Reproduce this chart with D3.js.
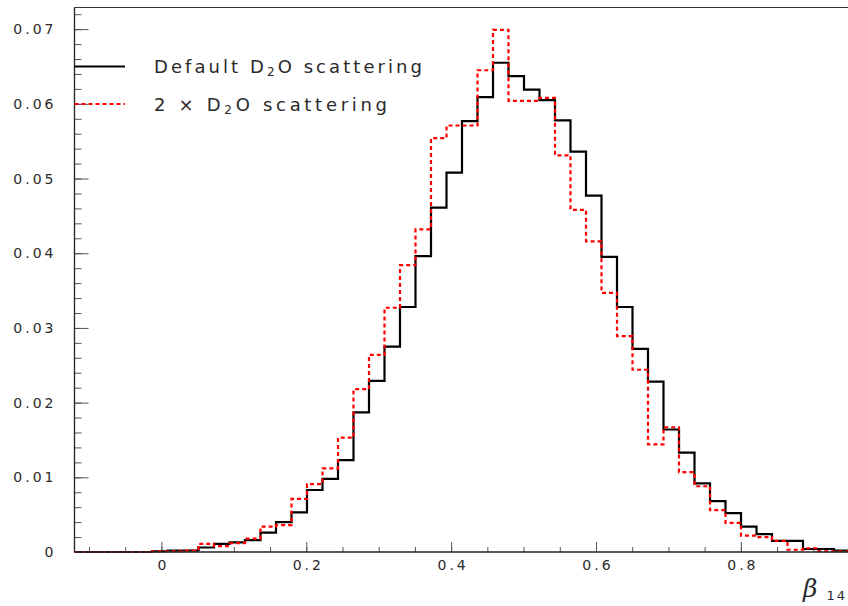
<!DOCTYPE html>
<html>
<head>
<meta charset="utf-8">
<script src="https://cdn.jsdelivr.net/npm/d3@7"></script>
<style>
  html, body { margin: 0; padding: 0; background: #fff; }
  svg { display: block; }
  text { font-family: "DejaVu Sans", sans-serif; fill: #2a2a2a; }
</style>
</head>
<body>
<svg id="chart" width="848" height="606"></svg>
<script>
// ---- data ----
const binLow = -0.12;
const binHigh = 0.95;
const nBins = 50;

const defaultScattering = [
  0, 0, 0, 0, 0, 0.0001, 0.0002, 0.0002, 0.0006, 0.0011,
  0.0013, 0.0016, 0.0026, 0.0040, 0.0053, 0.0083, 0.0098, 0.0123, 0.0187, 0.0229,
  0.0275, 0.0328, 0.0396, 0.0461, 0.0508, 0.0577, 0.0609, 0.0655, 0.0637, 0.0619,
  0.0605, 0.0578, 0.0536, 0.0477, 0.0395, 0.0328, 0.0272, 0.0228, 0.0164, 0.0133,
  0.0092, 0.0068, 0.0052, 0.0034, 0.0024, 0.0015, 0.0015, 0.0004, 0.0004, 0.0002
];
const doubleScattering = [
  0, 0, 0, 0, 0, 0.0001, 0.0001, 0.0002, 0.0011, 0.0008,
  0.0012, 0.0018, 0.0034, 0.0036, 0.0071, 0.0091, 0.0112, 0.0153, 0.0218, 0.0264,
  0.0327, 0.0384, 0.0432, 0.0554, 0.0571, 0.0571, 0.0645, 0.0699, 0.0604, 0.0604,
  0.0608, 0.0531, 0.0458, 0.0416, 0.0347, 0.0289, 0.0244, 0.0144, 0.0167, 0.0107,
  0.0088, 0.0056, 0.0039, 0.0022, 0.0020, 0.0015, 0.0003, 0.0005, 0.0001, 0.0001
];

const xMajorTicks = [0, 0.2, 0.4, 0.6, 0.8];
const xMinorTicks = [-0.1, -0.05, 0, 0.05, 0.1, 0.15, 0.2, 0.25, 0.3, 0.35, 0.4, 0.45, 0.5, 0.55, 0.6, 0.65, 0.7, 0.75, 0.8, 0.85, 0.9];
const yMajorTicks = [0, 0.01, 0.02, 0.03, 0.04, 0.05, 0.06, 0.07];
const yMinorTicks = d3.range(0, 37).map(i => +(i * 0.002).toFixed(3));
const xLabels = ["0", "0.2", "0.4", "0.6", "0.8"];
const yLabels = ["0", "0.01", "0.02", "0.03", "0.04", "0.05", "0.06", "0.07"];
const yMax = 0.0729;

// ---- drawing ----
const svg = d3.select("#chart");
const x = d3.scaleLinear().domain([binLow, binHigh]).range([74.5, 849.5]);
const y = d3.scaleLinear().domain([0, yMax]).range([552, 7.5]);

// frame top line
svg.append("line")
  .attr("x1", x(binLow)).attr("x2", 848)
  .attr("y1", y(yMax)).attr("y2", y(yMax))
  .attr("stroke", "#333").attr("stroke-width", 1);

// y minor ticks
svg.append("g").attr("transform", `translate(${x(binLow)},0)`)
  .call(d3.axisLeft(y).tickValues(yMinorTicks.filter(v => v <= yMax)).tickSize(-7).tickFormat(""))
  .call(g => g.select(".domain").remove())
  .selectAll("line").attr("stroke", "#555");

// y major ticks + labels
const yAxisG = svg.append("g").attr("transform", `translate(${x(binLow)},0)`)
  .call(d3.axisLeft(y).tickValues(yMajorTicks).tickSize(-14).tickPadding(18)
    .tickFormat((d, i) => yLabels[i]));
yAxisG.select(".domain").remove();
yAxisG.selectAll("line").attr("stroke", "#555");
yAxisG.selectAll("text").style("font-size", "14px").attr("letter-spacing", "3px")
  .style("font-family", "DejaVu Sans").attr("fill", "#2a2a2a");

// x minor ticks
svg.append("g").attr("transform", `translate(0,${y(0)})`)
  .call(d3.axisBottom(x).tickValues(xMinorTicks).tickSize(-5).tickFormat(""))
  .call(g => g.select(".domain").remove())
  .selectAll("line").attr("stroke", "#555");

// x major ticks + labels
const xAxisG = svg.append("g").attr("transform", `translate(0,${y(0)})`)
  .call(d3.axisBottom(x).tickValues(xMajorTicks).tickSize(-10).tickPadding(8)
    .tickFormat((d, i) => xLabels[i]));
xAxisG.select(".domain").remove();
xAxisG.selectAll("line").attr("stroke", "#555");
xAxisG.selectAll("text").style("font-size", "14px").attr("letter-spacing", "3px")
  .style("font-family", "DejaVu Sans").attr("fill", "#2a2a2a").attr("dx", "1.5px");

// histograms
const binW = (binHigh - binLow) / nBins;
function stepPoints(vals) {
  const pts = vals.map((v, i) => [binLow + i * binW, v]);
  pts.push([binHigh, vals[vals.length - 1]]);
  return pts;
}
const line = d3.line().x(d => x(d[0])).y(d => y(d[1])).curve(d3.curveStepAfter);

svg.append("path").datum(stepPoints(defaultScattering))
  .attr("d", line).attr("fill", "none")
  .attr("stroke", "#000").attr("stroke-width", 2.2);

svg.append("path").datum(stepPoints(doubleScattering))
  .attr("d", line).attr("fill", "none")
  .attr("stroke", "#ff0000").attr("stroke-width", 2.2)
  .attr("stroke-dasharray", "4,3");

// axes lines
svg.append("line")
  .attr("x1", x(binLow)).attr("x2", x(binLow))
  .attr("y1", y(yMax)).attr("y2", y(0))
  .attr("stroke", "#222").attr("stroke-width", 1.3);
svg.append("line")
  .attr("x1", x(binLow)).attr("x2", 848)
  .attr("y1", y(0)).attr("y2", y(0))
  .attr("stroke", "#222").attr("stroke-width", 1.3);

// legend
const legend = [
  { pre: "Default D", post: "O scattering", color: "#000", dash: null, y: 66.5, w: 268 },
  { pre: "2 \u00D7 D", post: "O scattering", color: "#ff0000", dash: "4,3", y: 104, w: 233 }
];
legend.forEach(L => {
  svg.append("line").attr("x1", 74.5).attr("x2", 125).attr("y1", L.y).attr("y2", L.y)
    .attr("stroke", L.color).attr("stroke-width", 2.2)
    .attr("stroke-dasharray", L.dash);
  const t = svg.append("text").attr("x", 154).attr("y", L.y + 6.5)
    .style("font-size", "18px")
    .attr("textLength", L.w).attr("lengthAdjust", "spacing");
  t.append("tspan").text(L.pre);
  t.append("tspan").attr("dy", 3).style("font-size", "12px").text("2");
  t.append("tspan").attr("dy", -3).text(L.post);
});

// x axis title
const xt = svg.append("text").attr("x", 803).attr("y", 597);
xt.append("tspan").style("font-size", "25px").style("font-style", "italic")
  .style("font-family", "DejaVu Serif").text("\u03B2");
xt.append("tspan").attr("dx", 9).attr("dy", 3).style("font-size", "13px")
  .attr("letter-spacing", "2px").text("14");
</script>
</body>
</html>
